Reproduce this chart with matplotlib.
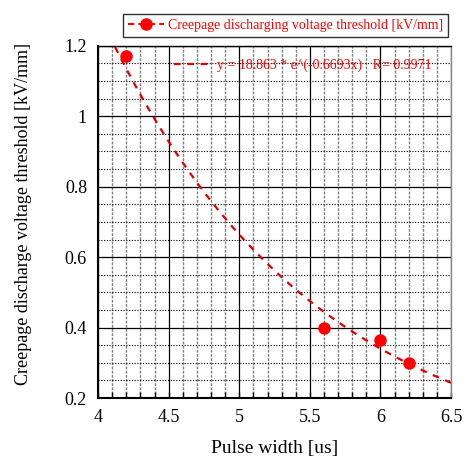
import numpy as np
import matplotlib.pyplot as plt
from matplotlib.ticker import MultipleLocator

plt.rcParams['font.family'] = ['Liberation Serif', 'DejaVu Serif']

# measured points
pulse_width = [4.2, 5.6, 6.0, 6.2]
threshold = [1.17, 0.40, 0.365, 0.30]

# exponential fit y = a * exp(b x)
fit_a = 18.863
fit_b = -0.6693
fit_r = 0.9971
fit_x = np.linspace(4.12, 6.5, 100)
fit_y = fit_a * np.exp(fit_b * fit_x)

x_ticks = [4, 4.5, 5, 5.5, 6, 6.5]
x_labels = ['4', '4.5', '5', '5.5', '6', '6.5']
y_ticks = [0.2, 0.4, 0.6, 0.8, 1.0, 1.2]
y_labels = ['0.2', '0.4', '0.6', '0.8', '1', '1.2']

fig = plt.figure(figsize=(4.65, 4.58), dpi=100)
ax = fig.add_axes([0.211, 0.131, 0.759, 0.769])

pts, = ax.plot(pulse_width, threshold, 'o', color='red', markersize=8, linestyle='none', zorder=5)
fitline, = ax.plot(fit_x, fit_y, '--', color='#e00000', linewidth=1.6, dashes=(3, 3), zorder=4)

ax.set_xlim(4, 6.5)
ax.set_ylim(0.2, 1.2)
ax.set_xticks(x_ticks)
ax.set_xticklabels(x_labels, fontsize=13)
ax.set_yticks(y_ticks)
ax.set_yticklabels(y_labels, fontsize=13)
ax.xaxis.set_minor_locator(MultipleLocator(0.1))
ax.yaxis.set_minor_locator(MultipleLocator(0.05))
ax.tick_params(which='both', direction='in', length=0, pad=8)
ax.tick_params(axis='x', which='both', length=4, bottom=True, width=1)

ax.grid(which='major', color='black', linewidth=0.9, linestyle='-')
ax.grid(which='minor', axis='y', color='black', linewidth=0.8, linestyle=(0, (1, 1.5)))
ax.grid(which='minor', axis='x', color='#808080', linewidth=1.0, linestyle=(0, (2, 1)))
for s in ax.spines.values():
    s.set_linewidth(1.0)
ax.spines['right'].set_color('#888888')
ax.spines['bottom'].set_linewidth(1.5)
ax.spines['left'].set_linewidth(1.5)
ax.set_axisbelow(True)

ax.set_xlabel('Pulse width [us]', fontsize=14, labelpad=10)
ax.set_ylabel('Creepage discharge voltage threshold [kV/mm]', fontsize=13)
ax.yaxis.set_label_coords(-0.187, 0.524)

# legend entries
leg_pts, = ax.plot([], [], 'o--', color='red', markersize=8, dashes=(3, 2))
leg1 = fig.legend([leg_pts], ['Creepage discharging voltage threshold [kV/mm]'],
                  loc='center', bbox_to_anchor=(0.614, 0.945), fontsize=10,
                  frameon=True, fancybox=False, edgecolor='black', handlelength=2.6,
                  borderpad=0.35, handletextpad=0.3, labelcolor='red')
leg1.get_frame().set_linewidth(1.0)

leg2 = ax.legend([fitline], ['y = 18.863 * e^(-0.6693x)   R= 0.9971'],
                 loc='upper left', bbox_to_anchor=(0.18, 1.0), fontsize=10,
                 frameon=False, handlelength=2.8, handletextpad=0.3, labelcolor='red')

fig.savefig('out.png', dpi=100)
